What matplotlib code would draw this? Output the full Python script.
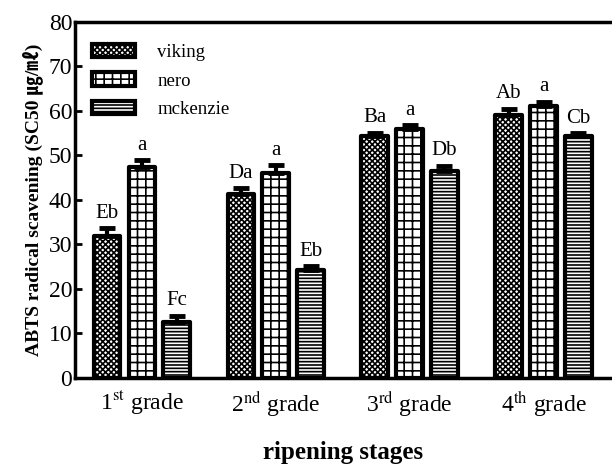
import numpy as np
import matplotlib
matplotlib.use("Agg")
import matplotlib.pyplot as plt

plt.rcParams['font.family'] = ['Liberation Serif', 'Noto Sans CJK KR', 'DejaVu Sans']
plt.rcParams['mathtext.fontset'] = 'stix'
plt.rcParams['hatch.linewidth'] = 1.2

# data
stages = ["1$^{\\mathrm{st}}$ grade", "2$^{\\mathrm{nd}}$ grade",
          "3$^{\\mathrm{rd}}$ grade", "4$^{\\mathrm{th}}$ grade"]
cultivars = ["viking", "nero", "mckenzie"]
viking = [31.9, 41.3, 54.4, 59.1]
nero = [47.5, 46.0, 56.0, 61.0]
mckenzie = [12.6, 24.2, 46.6, 54.3]
viking_err = [1.7, 1.4, 0.7, 1.4]
nero_err = [1.5, 1.8, 0.8, 1.1]
mckenzie_err = [1.4, 0.9, 1.1, 0.7]
viking_lbl = ["Eb", "Da", "Ba", "Ab"]
nero_lbl = ["a", "a", "a", "a"]
mckenzie_lbl = ["Fc", "Eb", "Db", "Cb"]

series = [viking, nero, mckenzie]
errors = [viking_err, nero_err, mckenzie_err]
letters = [viking_lbl, nero_lbl, mckenzie_lbl]
hatches = ["xxxxxx", "++", "-----"]

fig = plt.figure(figsize=(6.12, 4.66), dpi=100)
ax = fig.add_axes([0.1225, 0.189, 0.875, 0.764])

x = np.arange(len(stages))
width = 0.2
offsets = [-0.26, 0.0, 0.26]

for vals, err, lbl, h, off, name in zip(series, errors, letters, hatches, offsets, cultivars):
    ax.bar(x + off, vals, width, color="white", edgecolor="black",
           linewidth=3, hatch=h, label=name, joinstyle="round")
    ax.errorbar(x + off, vals, yerr=[np.zeros(len(vals)), err], fmt="none",
                ecolor="black", elinewidth=3, capsize=6, capthick=3.5)
    for xi, v, e, t in zip(x + off, vals, err, lbl):
        ax.text(xi, v + e + 1.2, t, ha="center", va="bottom", fontsize=15)

ax.set_xlim(-0.5, 3.5)
ax.set_ylim(0, 80)
ax.set_yticks(range(0, 81, 10))
ax.set_xticks(x)
ax.set_xticklabels(stages, fontsize=17)
ax.tick_params(axis="y", direction="in", length=5, width=2, labelsize=17, pad=2)
ax.tick_params(axis="x", length=0, pad=8)

for s in ["left", "bottom", "top"]:
    ax.spines[s].set_linewidth(2.5)
ax.spines["right"].set_visible(False)

ax.set_ylabel("ABTS radical scavening (SC50 ㎍/㎖)", fontsize=14,
              fontweight="bold", labelpad=4)
ax.set_xlabel("ripening stages", fontsize=18, fontweight="bold", labelpad=16)

leg = ax.legend(loc="upper left", bbox_to_anchor=(0.0, 0.985), frameon=False,
                fontsize=13.5, handlelength=2.3, handleheight=0.7,
                labelspacing=0.6, handletextpad=1.2)

plt.savefig("out.png", dpi=100)
